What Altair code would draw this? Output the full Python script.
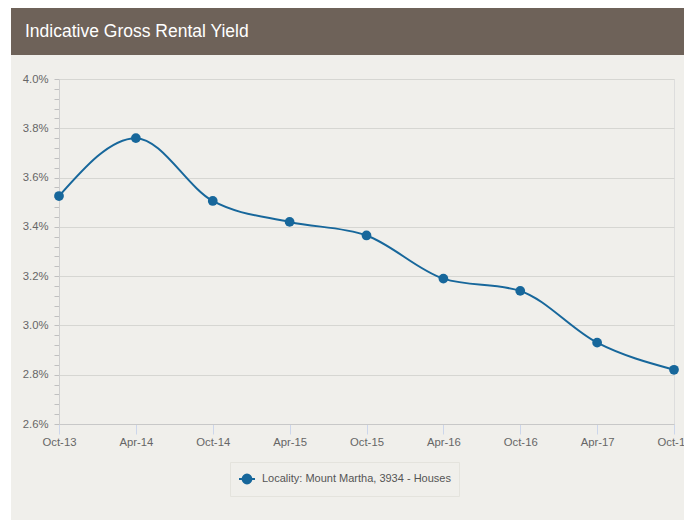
import altair as alt
import pandas as pd

dates = ["Oct-13", "Apr-14", "Oct-14", "Apr-15", "Oct-15", "Apr-16", "Oct-16", "Apr-17", "Oct-17"]
yields = [3.525, 3.76, 3.505, 3.42, 3.365, 3.19, 3.14, 2.93, 2.82]
series_name = "Locality: Mount Martha, 3934 - Houses"
title_text = "Indicative Gross Rental Yield"
y_ticks = [round(2.6 + 0.04 * i, 2) for i in range(36)]

BLUE = "#17679b"
PANEL = "#f0efeb"
HEADER = "#6e6259"
FONT = "Liberation Sans"

df = pd.DataFrame({"date": dates, "yield": yields, "series": [series_name] * len(dates)})
one = pd.DataFrame({"a": [0]})

major_test = "abs(datum.value*5 - round(datum.value*5)) < 0.01"

x_enc = alt.X(
    "date:N", sort=dates, title=None,
    scale=alt.Scale(type="point", padding=0),
    axis=alt.Axis(labelAngle=0, tickColor="#ccd6eb", tickSize=10, domainColor="#c8c8c8",
                  labelColor="#666666", labelFontSize=11.3, labelPadding=2, grid=False,
                  labelFont=FONT, labelOverlap=False),
)
y_enc = alt.Y(
    "yield:Q", title=None,
    scale=alt.Scale(domain=[2.6, 4.0], nice=False, zero=False),
    axis=alt.Axis(values=y_ticks,
                  labelExpr=major_test + " ? format(datum.value, '.1f') + '%' : ''",
                  gridOpacity={"condition": {"test": major_test, "value": 1}, "value": 0},
                  gridColor="#d6d6d2", tickColor="#c0c0c0", tickSize=5, domainColor="#cfcfcf",
                  labelColor="#666666", labelFontSize=11.3, labelPadding=6, labelFont=FONT,
                  labelOverlap=False, labelFlush=False),
)

sym = "M-1,0L1,0M-0.55,0A0.55,0.55,0,1,1,0.55,0A0.55,0.55,0,1,1,-0.55,0Z"
color_enc = alt.Color(
    "series:N", scale=alt.Scale(range=[BLUE]),
    legend=alt.Legend(orient="none", legendX=171, legendY=383, title=None,
                      symbolType=sym, symbolSize=256, symbolStrokeWidth=2,
                      symbolFillColor=BLUE, symbolStrokeColor=BLUE,
                      labelFontSize=11, labelColor="#555555", labelFont=FONT, labelLimit=0,
                      strokeColor="#e4e3dd", padding=8, labelOffset=6),
)

left_strip = alt.Chart(one).mark_rect(color="#ffffff").encode(
    x=alt.value(-51), x2=alt.value(-48), y=alt.value(-71), y2=alt.value(441))
header = alt.Chart(one).mark_rect(color=HEADER).encode(
    x=alt.value(-48), x2=alt.value(625), y=alt.value(-71), y2=alt.value(-24))
title = alt.Chart(one).mark_text(
    text=title_text, color="#ffffff", fontSize=17.5, font=FONT, align="left", baseline="alphabetic"
).encode(x=alt.value(-34), y=alt.value(-42))

line = alt.Chart(df).mark_line(interpolate="monotone", strokeWidth=2).encode(
    x=x_enc, y=y_enc, color=color_enc)
points = alt.Chart(df).mark_point(filled=True, size=95, opacity=1).encode(
    x=x_enc, y=y_enc, color=color_enc)

chart = alt.layer(left_strip, header, title, line, points).properties(
    width=615, height=345,
    autosize=alt.AutoSizeParams(type="none"),
    padding={"left": 51, "top": 71, "right": 10, "bottom": 96},
    background=PANEL,
).configure_view(stroke=None).configure(font=FONT)

chart.save("out.html", embed_options={"renderer": "svg", "actions": False})
